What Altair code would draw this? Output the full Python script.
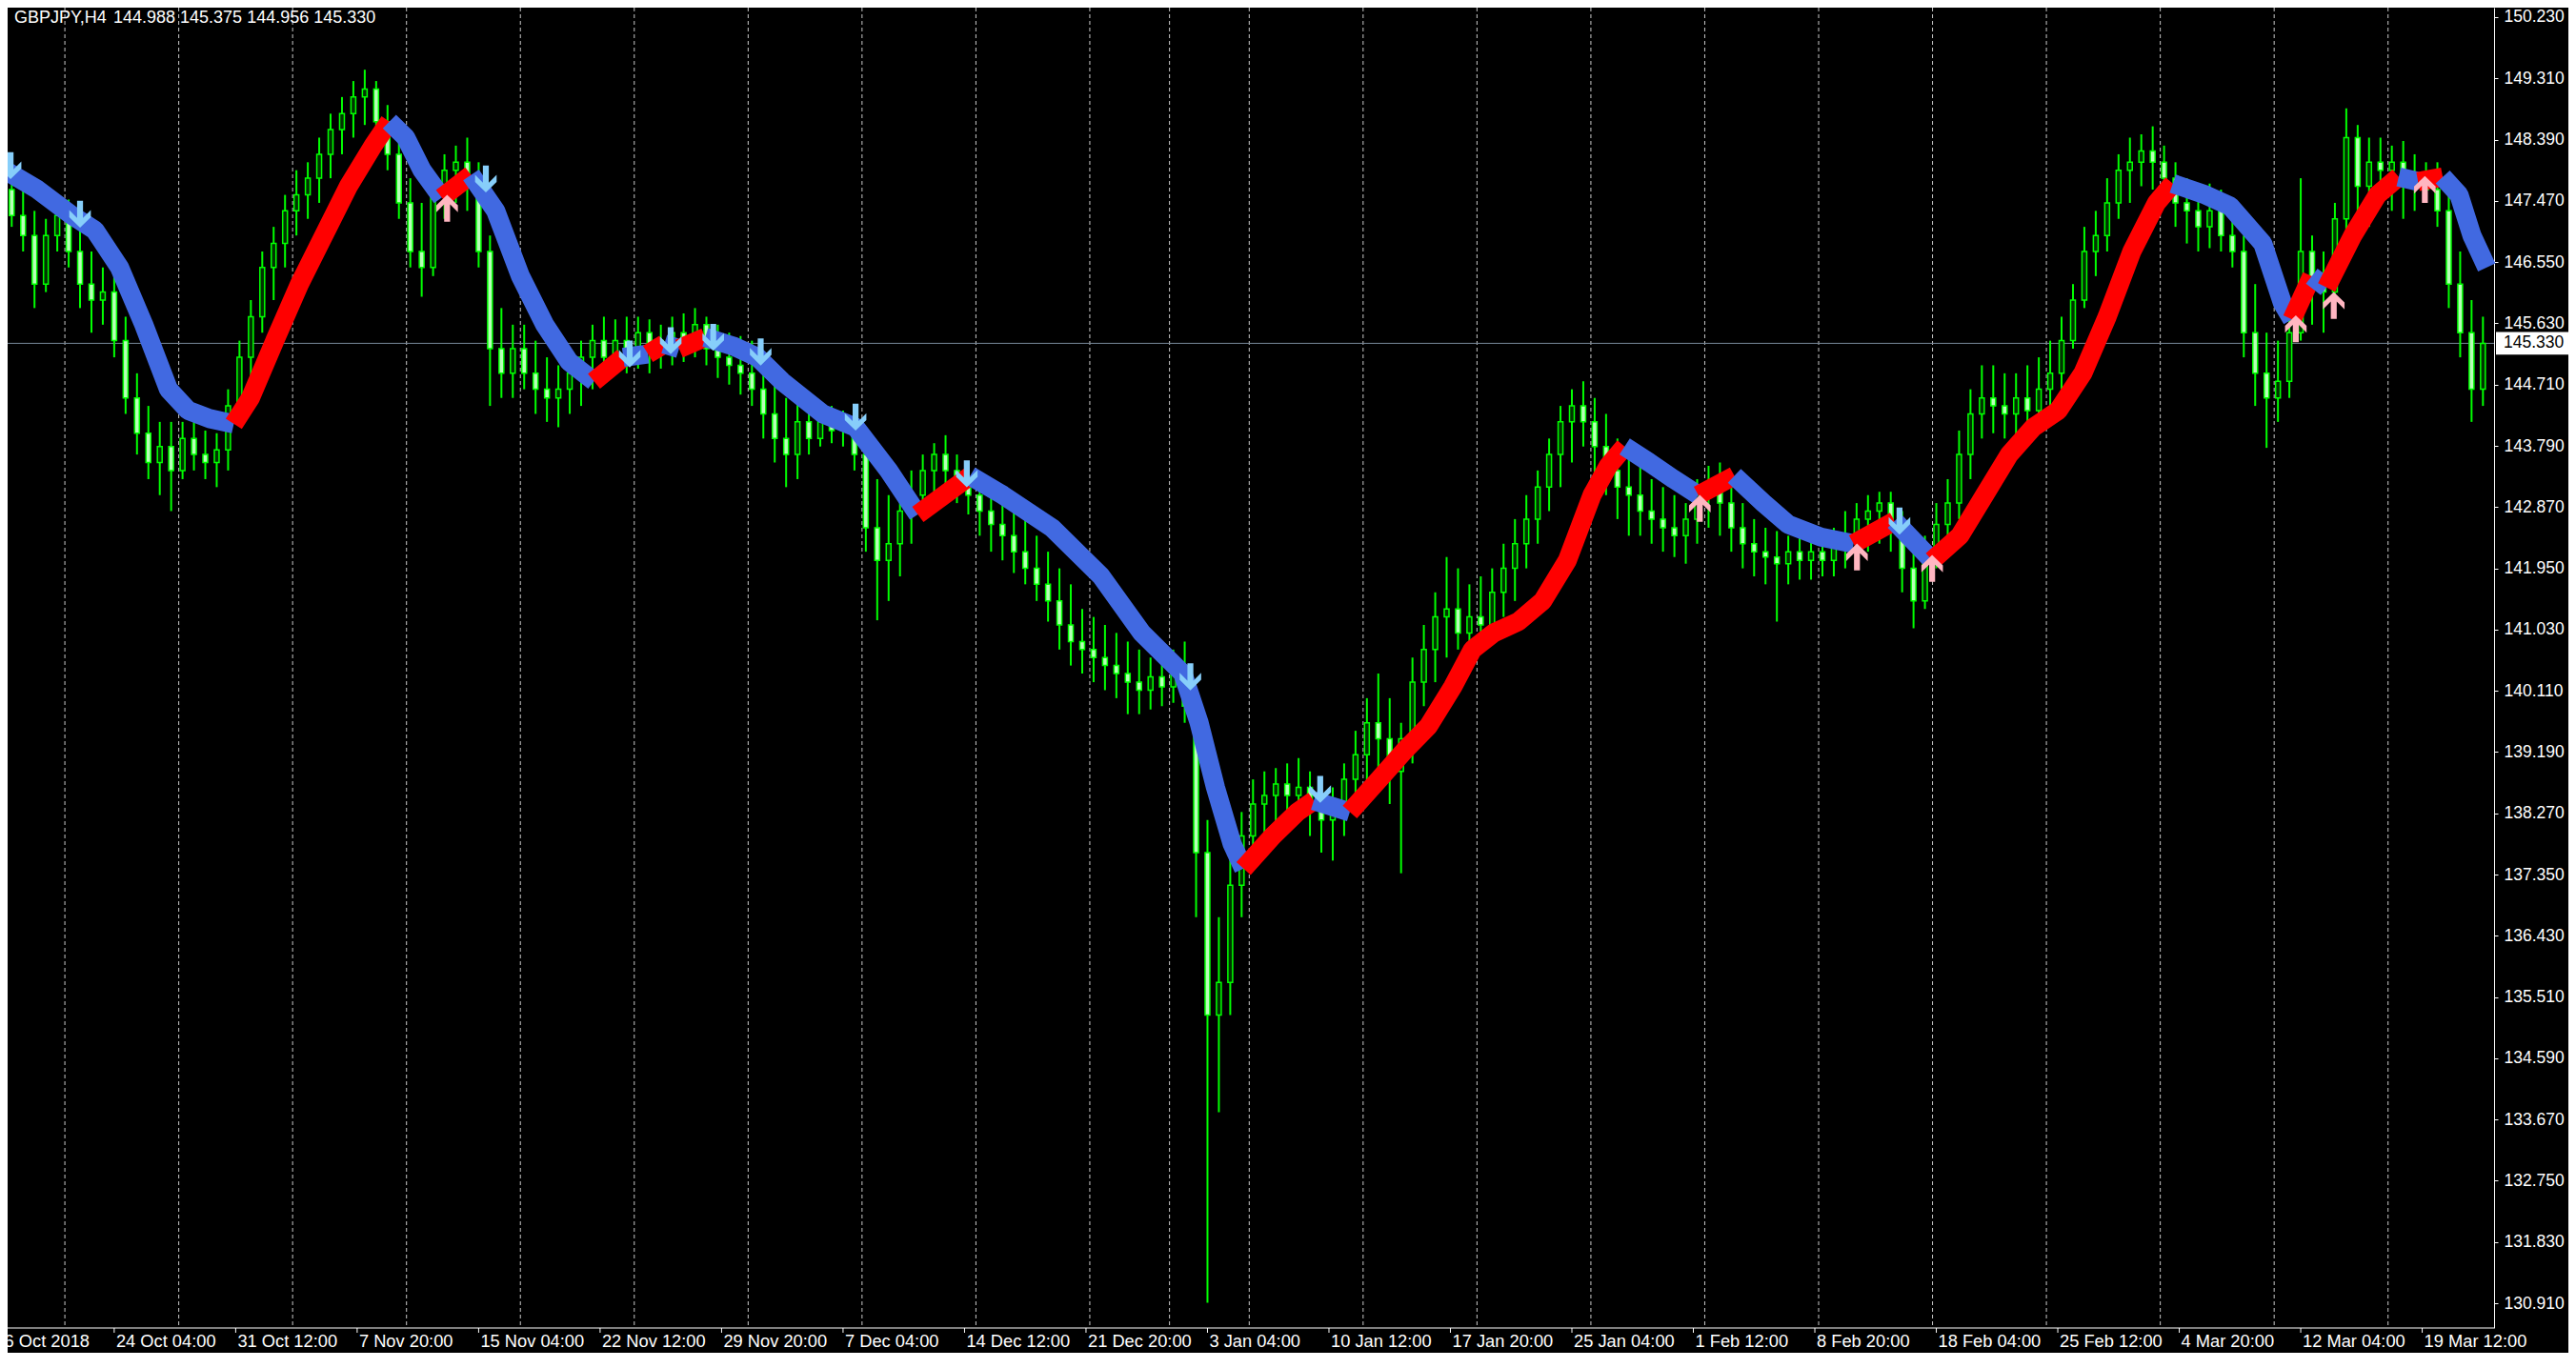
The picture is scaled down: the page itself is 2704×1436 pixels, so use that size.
import altair as alt
import pandas as pd

# ---------------- layout ----------------
W, H = 2610, 1386
PAD_R, PAD_B = 78, 26
FONT = "Liberation Sans"
FS_Y = 17.5
FS_X = 18.3
FS_T = 18

# ---------------- data ----------------
symbol_title = "GBPJPY,H4"
ohlc_title = "144.988 145.375 144.956 145.330"
current_price = 145.33
current_label = "145.330"

# 12-hour candles (each spans three H4 bars)
opens = [147.64,147.25,146.95,146.22,146.95,147.25,146.71,146.22,145.98,146.10,
         145.37,144.51,143.98,143.54,143.78,143.42,143.90,143.66,143.54,143.73,
         144.39,145.12,145.73,146.47,146.83,147.32,147.56,147.81,148.17,148.54,
         148.78,149.03,149.15,148.66,148.17,147.44,146.71,146.47,147.56,147.93,
         148.05,147.81,146.71,145.25,144.88,145.25,144.88,144.64,144.51,144.64,
         144.88,145.12,145.37,145.12,145.37,145.20,145.49,145.25,145.37,145.49,
         145.37,145.61,145.25,145.12,145.00,144.88,144.64,144.27,143.90,143.66,
         144.15,143.90,144.15,144.02,144.15,143.66,142.56,142.07,142.32,142.81,
         143.05,143.42,143.66,143.42,143.29,143.05,142.81,142.61,142.44,142.20,
         141.95,141.71,141.46,141.10,140.85,140.73,140.61,140.49,140.37,140.24,
         140.12,140.32,140.17,140.49,139.88,137.68,135.24,135.73,137.19,137.93,
         138.41,138.54,138.71,138.54,138.66,138.29,138.17,138.41,138.78,139.15,
         139.63,139.39,138.90,139.39,140.24,140.73,141.22,141.34,140.98,141.22,
         141.10,141.59,141.95,142.32,142.69,143.17,143.66,144.15,144.39,144.15,
         143.78,143.42,143.17,143.05,142.81,142.69,142.56,142.44,142.69,143.05,
         143.24,142.93,142.56,142.32,142.20,142.12,142.02,142.20,142.07,142.20,
         142.07,142.32,142.44,142.69,142.81,142.93,142.56,141.95,141.46,142.07,
         142.61,142.93,143.66,144.27,144.51,144.39,144.27,144.51,144.32,144.64,
         144.88,145.37,145.98,146.71,146.95,147.44,147.93,148.05,148.22,148.05,
         147.81,147.44,147.32,147.08,147.32,146.95,146.71,145.49,144.88,144.51,
         144.76,145.49,146.71,146.22,146.10,147.20,148.42,147.69,148.05,147.93,
         148.05,147.69,147.81,147.64,147.32,146.22,145.49,144.64]
highs = [147.81,147.69,147.32,147.20,147.44,147.49,147.08,146.71,146.47,146.34,
         145.73,144.88,144.39,144.15,144.15,144.15,144.15,144.02,143.98,144.64,
         145.37,145.98,146.71,147.08,147.56,147.93,148.05,148.42,148.78,149.03,
         149.27,149.44,149.27,148.91,148.42,147.81,147.44,147.81,148.17,148.30,
         148.42,148.05,146.95,145.86,145.61,145.61,145.37,145.12,145.00,145.25,
         145.37,145.61,145.73,145.69,145.73,145.73,145.69,145.61,145.73,145.78,
         145.86,145.73,145.61,145.49,145.44,145.37,145.12,144.76,144.51,144.51,
         144.51,144.39,144.39,144.32,144.27,143.90,143.29,143.05,143.17,143.42,
         143.66,143.83,143.95,143.66,143.54,143.34,143.17,143.05,142.93,142.69,
         142.44,142.20,141.95,141.71,141.34,141.22,141.10,140.98,140.85,140.73,
         140.61,140.66,140.73,140.85,140.12,138.17,136.71,137.68,138.29,138.78,
         138.90,138.95,139.02,139.10,138.90,138.71,138.66,139.02,139.51,140.00,
         140.37,140.00,139.63,140.61,141.10,141.59,142.12,141.95,141.71,141.83,
         141.95,142.32,142.69,143.05,143.42,143.90,144.39,144.64,144.76,144.51,
         144.27,143.90,143.66,143.54,143.29,143.17,143.05,142.93,143.29,143.49,
         143.54,143.29,142.93,142.69,142.56,142.51,142.44,142.51,142.44,142.51,
         142.56,142.81,142.93,143.05,143.10,143.10,142.81,142.32,142.44,142.93,
         143.29,144.02,144.64,145.00,145.00,144.88,144.88,145.00,145.12,145.37,
         145.73,146.22,147.08,147.32,147.81,148.17,148.42,148.47,148.59,148.30,
         148.05,147.81,147.69,147.73,147.64,147.44,146.95,146.22,145.49,145.37,
         145.98,147.81,146.95,146.71,147.44,148.86,148.61,148.42,148.42,148.30,
         148.37,148.17,148.05,148.05,147.69,146.71,145.98,145.73]
lows = [147.08,146.71,145.86,146.10,146.71,146.47,145.86,145.49,145.61,145.12,
        144.27,143.66,143.29,143.05,142.81,143.29,143.42,143.29,143.17,143.42,
        144.15,144.76,145.49,145.98,146.47,146.95,147.20,147.44,147.81,148.17,
        148.42,148.61,148.42,147.93,147.20,146.47,146.03,146.34,147.20,147.44,
        147.32,146.47,144.39,144.51,144.51,144.64,144.27,144.15,144.07,144.27,
        144.39,144.64,144.81,144.88,144.88,144.95,144.88,144.95,145.00,145.05,
        145.12,145.00,144.81,144.71,144.56,144.39,143.90,143.54,143.17,143.29,
        143.66,143.78,143.83,143.78,143.42,142.20,141.17,141.46,141.83,142.32,
        142.81,143.05,143.17,142.93,142.76,142.44,142.20,142.07,141.88,141.71,
        141.46,141.15,140.73,140.49,140.37,140.24,140.12,140.00,139.76,139.76,
        139.83,139.88,139.93,139.63,136.71,130.92,133.78,135.24,136.71,137.56,
        137.93,138.05,138.17,138.29,137.93,137.68,137.56,137.93,138.29,138.66,
        138.90,138.41,137.37,139.02,139.88,140.24,140.61,140.73,140.61,140.73,
        140.85,141.22,141.46,141.95,142.32,142.81,143.17,143.54,143.78,143.29,
        143.05,142.69,142.44,142.44,142.32,142.20,142.12,142.02,142.32,142.56,
        142.44,142.20,141.95,141.83,141.71,141.15,141.71,141.78,141.78,141.83,
        141.83,141.95,142.12,142.20,142.32,142.20,141.59,141.05,141.34,141.95,
        142.32,142.69,143.29,143.90,143.98,143.90,143.90,143.98,144.15,144.39,
        144.64,145.25,145.86,146.34,146.71,147.20,147.44,147.69,147.64,147.44,
        147.08,146.83,146.71,146.76,146.71,146.47,145.12,144.39,143.76,144.15,
        144.51,145.37,145.61,145.49,145.73,146.95,147.20,147.08,147.44,147.32,
        147.20,147.32,147.44,147.08,145.86,145.12,144.15,144.39]
closes = [147.25,146.95,146.22,146.95,147.25,146.71,146.22,145.98,146.10,145.37,
          144.51,143.98,143.54,143.78,143.42,143.90,143.66,143.54,143.73,144.39,
          145.12,145.73,146.47,146.83,147.32,147.56,147.81,148.17,148.54,148.78,
          149.03,149.15,148.66,148.17,147.44,146.71,146.47,147.56,147.93,148.05,
          147.81,146.71,145.25,144.88,145.25,144.88,144.64,144.51,144.64,144.88,
          145.12,145.37,145.12,145.37,145.20,145.49,145.25,145.37,145.49,145.37,
          145.61,145.25,145.12,145.00,144.88,144.64,144.27,143.90,143.66,144.15,
          143.90,144.15,144.02,144.15,143.66,142.56,142.07,142.32,142.81,143.05,
          143.42,143.66,143.42,143.29,143.05,142.81,142.61,142.44,142.20,141.95,
          141.71,141.46,141.10,140.85,140.73,140.61,140.49,140.37,140.24,140.12,
          140.32,140.17,140.49,139.88,137.68,135.24,135.73,137.19,137.93,138.41,
          138.54,138.71,138.54,138.66,138.29,138.17,138.41,138.78,139.15,139.63,
          139.39,138.90,139.39,140.24,140.73,141.22,141.34,140.98,141.22,141.10,
          141.59,141.95,142.32,142.69,143.17,143.66,144.15,144.39,144.15,143.78,
          143.42,143.17,143.05,142.81,142.69,142.56,142.44,142.69,143.05,143.24,
          142.93,142.56,142.32,142.20,142.12,142.02,142.20,142.07,142.20,142.07,
          142.32,142.44,142.69,142.81,142.93,142.56,141.95,141.46,142.07,142.61,
          142.93,143.66,144.27,144.51,144.39,144.27,144.51,144.32,144.64,144.88,
          145.37,145.98,146.71,146.95,147.44,147.93,148.05,148.22,148.05,147.81,
          147.44,147.32,147.08,147.32,146.95,146.71,145.49,144.88,144.51,144.76,
          145.49,146.71,146.22,146.10,147.20,148.42,147.69,148.05,147.93,148.05,
          147.69,147.81,147.64,147.32,146.22,145.49,144.64,145.33]

# moving average line (bar index in H4 bars, price) and direction runs
ma_bar = [-0.8, 7.8, 16.4, 22.9, 29.4, 35.8, 42.3, 47.5, 53.1, 59.5,
          63.9, 70.3, 76.8, 83.2, 89.7, 96.2, 100.5, 104.8, 109.1, 114.3,
          122.0, 128.5, 135.0, 141.4, 147.9, 154.4, 162.1, 168.6, 172.9, 176.8,
          183.7, 191.0, 197.5, 203.9, 214.7, 223.3, 232.0, 239.7, 253.5, 262.1,
          275.0, 288.0, 298.7, 309.5, 313.8, 318.1, 322.5, 325.5, 333.2, 339.7,
          344.0, 353.5, 361.2, 367.7, 374.2, 380.6, 385.8, 391.4, 397.9, 404.3,
          410.8, 417.3, 421.6, 425.9, 432.4, 438.8, 445.3, 454.8, 462.5, 469.0,
          477.6, 486.2, 497.0, 506.9, 514.2, 520.7, 527.2, 533.6, 540.1, 546.6,
          553.0, 559.5, 566.0, 570.3, 578.9, 585.4, 594.0, 599.2, 601.7, 606.9,
          610.8, 617.7, 624.2, 629.8, 634.9, 641.4, 645.7, 649.1, 653.0]
ma_price = [147.93, 147.64, 147.27, 147.03, 146.47, 145.61, 144.64, 144.32, 144.20, 144.12,
            144.51, 145.37, 146.22, 146.95, 147.69, 148.30, 148.66, 148.42, 147.93, 147.52,
            147.86, 147.32, 146.34, 145.61, 145.05, 144.76, 145.12, 145.17, 145.32, 145.25,
            145.42, 145.29, 145.12, 144.76, 144.27, 144.07, 143.42, 142.76, 143.34, 143.05,
            142.56, 141.83, 140.98, 140.37, 139.63, 138.66, 137.81, 137.44, 137.93, 138.29,
            138.46, 138.29, 138.78, 139.20, 139.58, 140.17, 140.73, 140.98, 141.15, 141.46,
            142.07, 143.05, 143.49, 143.78, 143.54, 143.29, 143.05, 143.34, 142.93, 142.61,
            142.42, 142.32, 142.66, 142.07, 142.44, 143.05, 143.66, 144.07, 144.32, 144.88,
            145.73, 146.71, 147.44, 147.73, 147.56, 147.39, 146.83, 145.93, 145.69, 146.34,
            146.17, 146.95, 147.56, 147.83, 147.76, 147.83, 147.56, 146.95, 146.47]
ma_runs = [("down", 9), ("up", 7), ("down", 3), ("up", 1), ("down", 5), ("up", 1),
           ("down", 1), ("up", 1), ("down", 1), ("up", 1), ("down", 7), ("up", 1),
           ("down", 9), ("up", 3), ("down", 1), ("up", 12), ("down", 3), ("up", 1),
           ("down", 4), ("up", 1), ("down", 1), ("up", 10), ("down", 5), ("up", 1),
           ("down", 1), ("up", 3), ("down", 1), ("up", 1), ("down", 3)]

# signal arrows
down_bar = [0.7, 19.0, 125.9, 163.8, 174.6, 185.8, 198.3, 223.3, 252.6, 311.5, 345.7, 498.3]
down_price = [148.00, 147.27, 147.80, 145.17, 145.37, 145.42, 145.20, 144.22, 143.37, 140.32, 138.63, 142.66]
up_bar = [115.7, 445.7, 487.1, 506.9, 602.7, 612.7, 636.7]
up_price = [147.36, 142.85, 142.12, 141.95, 145.55, 145.90, 147.64]

# week separators (H4 bar index) and time labels
week_bar = [15, 45, 75, 105, 135, 165, 195, 225, 255, 285, 306, 327, 357, 387,
            417, 447, 477, 507, 537, 567, 597, 627]
label_bar = [-4, 28, 60, 92, 124, 156, 188, 220, 252, 284, 316, 348, 380, 412,
             444, 476, 508, 540, 572, 604, 636]
label_text = ["16 Oct 2018", "24 Oct 04:00", "31 Oct 12:00", "7 Nov 20:00", "15 Nov 04:00",
              "22 Nov 12:00", "29 Nov 20:00", "7 Dec 04:00", "14 Dec 12:00", "21 Dec 20:00",
              "3 Jan 04:00", "10 Jan 12:00", "17 Jan 20:00", "25 Jan 04:00", "1 Feb 12:00",
              "8 Feb 20:00", "18 Feb 04:00", "25 Feb 12:00", "4 Mar 20:00", "12 Mar 04:00",
              "19 Mar 12:00"]
price_ticks = [150.23, 149.31, 148.39, 147.47, 146.55, 145.63, 144.71, 143.79, 142.87,
               141.95, 141.03, 140.11, 139.19, 138.27, 137.35, 136.43, 135.51, 134.59,
               133.67, 132.75, 131.83, 130.91]

# ---------------- frames ----------------
candles = pd.DataFrame({
    "b": [3 * k + 1 for k in range(len(closes))],
    "open": opens, "high": highs, "low": lows, "close": closes,
})

dirs = []
for d, n in ma_runs:
    dirs += [d] * n
rows = []
seg = 0
i = 0
nk = len(ma_bar)
while i < nk - 1:
    d = dirs[i]
    j = i
    while j < nk - 1 and dirs[j] == d:
        j += 1
    for t in range(i, j + 1):
        rows.append({"b": ma_bar[t], "p": ma_price[t], "dir": d, "seg": seg, "ord": t})
    seg += 1
    i = j
ma_df = pd.DataFrame(rows)

dn_df = pd.DataFrame({"b": down_bar, "p": down_price})
up_df = pd.DataFrame({"b": up_bar, "p": up_price})
grid_df = pd.DataFrame({"b": week_bar})
xlab_df = pd.DataFrame({"b": label_bar, "t": label_text})
cur_df = pd.DataFrame({"p": [current_price], "t": [current_label]})
one = pd.DataFrame({"a": [0]})

# ---------------- scales ----------------
xsc = alt.Scale(domain=[1.175, 653.675], nice=False, zero=False)
ysc = alt.Scale(domain=[130.539, 150.373], nice=False, zero=False)
yax = alt.Axis(orient="right", values=price_ticks, format=".3f", labelColor="white",
               labelFont=FONT, labelFontSize=FS_Y, tickColor="white", tickSize=4,
               domainColor="white", domainWidth=1, labelPadding=6, grid=False,
               title="", labelFlush=False, labelOverlap=False)


def X(f):
    return alt.X(f + ":Q", scale=xsc, axis=None)


def Y(f):
    return alt.Y(f + ":Q", scale=ysc, axis=yax)


DOWN = "M-0.22,-1L0.22,-1L0.22,0.28L0.8,-0.3L0.8,0.22L0,1L-0.8,0.22L-0.8,-0.3L-0.22,0.28Z"
UP = "M-0.22,1L0.22,1L0.22,-0.28L0.8,0.3L0.8,-0.22L0,-1L-0.8,-0.22L-0.8,0.3L-0.22,-0.28Z"
BOX = "M-1.6,-0.5L1.6,-0.5L1.6,0.5L-1.6,0.5Z"

grid = alt.Chart(grid_df).mark_rule(color="#c8c8c8", strokeWidth=1, strokeDash=[4, 3]).encode(
    x=X("b"), y=alt.value(0), y2=alt.value(H))

bid = alt.Chart(cur_df).mark_rule(color="#778899", strokeWidth=1).encode(
    y=Y("p"), x=alt.value(0), x2=alt.value(W))

wicks = alt.Chart(candles).mark_rule(color="#00ff00", strokeWidth=2).encode(
    x=X("b"), y=Y("low"), y2=alt.Y2("high"))

bodies = alt.Chart(candles).mark_bar(size=5, stroke="#00ff00", strokeWidth=1.5).encode(
    x=X("b"), y=Y("open"), y2=alt.Y2("close"),
    fill=alt.condition("datum.close > datum.open", alt.value("#003300"), alt.value("#b8ffb8")))

ma = alt.Chart(ma_df).mark_line(strokeWidth=20, strokeCap="butt", strokeJoin="bevel").encode(
    x=X("b"), y=Y("p"),
    color=alt.Color("dir:N", scale=alt.Scale(domain=["up", "down"], range=["#ff0000", "#4169e1"]), legend=None),
    detail="seg:N", order="ord:Q")

dn = alt.Chart(dn_df).mark_point(shape=DOWN, size=800, filled=True, color="#87cefa",
                                 opacity=1, strokeWidth=0).encode(x=X("b"), y=Y("p"))
up = alt.Chart(up_df).mark_point(shape=UP, size=800, filled=True, color="#ffb6c1",
                                 opacity=1, strokeWidth=0).encode(x=X("b"), y=Y("p"))

box = alt.Chart(cur_df).mark_point(shape=BOX, size=2256, filled=True, color="white",
                                   opacity=1, strokeWidth=0).encode(x=alt.value(W + 40), y=Y("p"))
boxtext = alt.Chart(cur_df).mark_text(align="left", baseline="middle", color="black",
                                      font=FONT, fontSize=FS_Y).encode(
    x=alt.value(W + 10), y=Y("p"), text="t:N")

t1 = alt.Chart(pd.DataFrame({"t": [symbol_title]})).mark_text(
    align="left", baseline="alphabetic", color="white", font=FONT, fontSize=FS_T).encode(
    x=alt.value(7), y=alt.value(16), text="t:N")
t2 = alt.Chart(pd.DataFrame({"t": [ohlc_title]})).mark_text(
    align="left", baseline="alphabetic", color="white", font=FONT, fontSize=FS_T).encode(
    x=alt.value(111), y=alt.value(16), text="t:N")

xticks = alt.Chart(xlab_df).mark_rule(color="white", strokeWidth=1).encode(
    x=X("b"), y=alt.value(H), y2=alt.value(H + 5))
xlabels = alt.Chart(xlab_df).mark_text(align="left", baseline="alphabetic", color="white",
                                       font=FONT, fontSize=FS_X, dx=2).encode(
    x=X("b"), y=alt.value(H + 20), text="t:N")
bottom = alt.Chart(one).mark_rule(color="white", strokeWidth=1).encode(
    x=alt.value(0), x2=alt.value(W), y=alt.value(H))

chart = alt.layer(grid, bid, wicks, bodies, ma, dn, up, box, boxtext, t1, t2,
                  xticks, xlabels, bottom).properties(
    width=W, height=H, background="black",
    padding={"left": 0, "top": 0, "right": PAD_R, "bottom": PAD_B},
    autosize=alt.AutoSizeParams(type="none"),
).configure_view(stroke="transparent")

chart.save("out.html", embed_options={"renderer": "svg", "actions": False})
